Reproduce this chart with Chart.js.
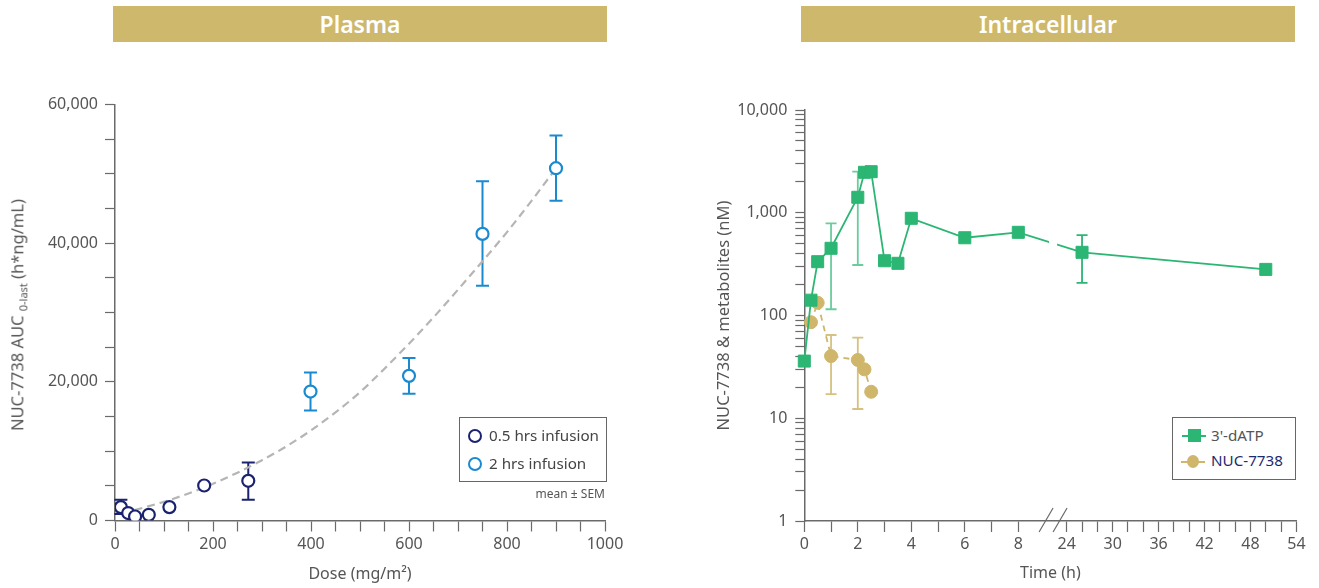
<!DOCTYPE html>
<html>
<head>
<meta charset="utf-8">
<script src="https://cdn.jsdelivr.net/npm/chart.js@4.4.0/dist/chart.umd.min.js"></script>
<style>
  body { margin: 0; width: 1319px; height: 588px; position: relative; overflow: hidden; background: #fff; font-family: 'Noto Sans', sans-serif; }
  .bar { position: absolute; top: 6px; height: 36px; line-height: 36px; background: #ceb86c; color: #fff; font-size: 23px; font-weight: 600; text-align: center; }
  canvas { position: absolute; top: 0; }
  .ytitle { position: absolute; white-space: nowrap; font-size: 16.5px; color: #555; transform: translate(-50%, -50%) rotate(-90deg); }
  .ytitle sub { font-size: 11px; }
  .legend { position: absolute; border: 1px solid #666; background: #fff; box-sizing: border-box; }
  .item { position: absolute; left: 0; font-size: 15.2px; color: #444; white-space: nowrap; }
  .circ { position: absolute; width: 10px; height: 10px; border-radius: 50%; border: 2.2px solid; background: #fff; }
  .note { position: absolute; font-size: 12px; color: #555; }
</style>
</head>
<body>
<div class="bar" style="left:113px; width:494px;">Plasma</div>
<div class="bar" style="left:801px; width:494px;">Intracellular</div>

<canvas id="plasma" width="650" height="588" style="left:0"></canvas>
<canvas id="intra" width="659" height="588" style="left:660px"></canvas>

<div class="ytitle" style="left:18px; top:315px;">NUC-7738 AUC <sub>0-last</sub> (h*ng/mL)</div>

<div class="legend" style="left:459px; top:417px; width:148px; height:65px;">
  <div class="circ" style="left:8px; top:11px; border-color:#1b2270;"></div>
  <div class="item" style="left:29px; top:7px;">0.5 hrs infusion</div>
  <div class="circ" style="left:8px; top:39px; border-color:#1a8ad0;"></div>
  <div class="item" style="left:29px; top:35px;">2 hrs infusion</div>
</div>
<div class="note" style="right:714px; top:485px;">mean ± SEM</div>

<div class="legend" style="left:1172px; top:417px; width:124px; height:63px;">
  <div style="position:absolute; left:9px; top:17px; width:24px; height:2px; background:#2bb673;"></div>
  <div style="position:absolute; left:15px; top:11px; width:13px; height:13px; background:#2bb673;"></div>
  <div class="item" style="left:38px; top:7px; color:#555;">3'-dATP</div>
  <div style="position:absolute; left:8px; top:43px; width:24px; height:2px; background:#cfb66b;"></div>
  <div style="position:absolute; left:14px; top:37px; width:12px; height:13px; border-radius:50%; background:#cfb66b;"></div>
  <div class="item" style="left:38px; top:32px; color:#1f2a6e;">NUC-7738</div>
</div>

<script>
// ---- Plasma: AUC vs dose ----
const doseHalfHr = [12, 27, 41, 69, 111, 182, 272];
const aucHalfHr = [1930, 1070, 580, 820, 1930, 5050, 5720];
const aucHalfHrUpper = [2985, null, null, null, null, null, 8360];
const aucHalfHrLower = [920, null, null, null, null, null, 2985];

const doseTwoHr = [399, 600, 750, 900];
const aucTwoHr = [18600, 20860, 41340, 50810];
const aucTwoHrUpper = [21340, 23420, 48940, 55520];
const aucTwoHrLower = [15860, 18270, 33850, 46100];

// dashed trend line
const fitDose = [40, 100, 150, 200, 250, 300, 350, 400, 450, 500, 550, 600, 650, 700, 750, 800, 850, 900];
const fitAuc = [1500, 2700, 3900, 5300, 6900, 8700, 10700, 13000, 15600, 18500, 21900, 25500, 29300, 33300, 37400, 41600, 46100, 50800];

// ---- Intracellular: concentration vs time ----
const datpTime = [0, 0.25, 0.5, 1, 2, 2.25, 2.5, 3, 3.5, 4, 6, 8, 26, 50];
const datpConc = [36, 141, 334, 451, 1414, 2476, 2510, 341, 322, 883, 571, 645, 412, 281];
const datpUpper = [null, null, null, 789, 2510, null, null, null, null, null, null, null, 607, null];
const datpLower = [null, null, null, 115, 310, null, null, null, null, null, null, null, 208, null];

const nucTime = [0.25, 0.5, 1, 2, 2.25, 2.5];
const nucConc = [86, 133, 40.3, 36.9, 29.9, 18.1];
const nucUpper = [null, null, 64.6, 60.8, null, null];
const nucLower = [null, null, 17.2, 12.3, null, null];

const timeTicks = [0, 1, 2, 3, 4, 5, 6, 7, 8, 24, 26, 28, 30, 32, 34, 36, 38, 40, 42, 44, 46, 48, 50, 52, 54];
const timeTickLabels = ['0', '', '2', '', '4', '', '6', '', '8', '24', '', '', '30', '', '', '36', '', '', '42', '', '', '48', '', '', '54'];
const logDecades = [1, 10, 100, 1000, 10000];
const logSteps = [1, 2, 3, 4, 5, 6, 7, 8, 9];

// broken time axis: 0-8 h at full width, 24-54 h compressed
const SEG2_START = 9.81;
const SEG2_SCALE = 0.2862;
const BREAK_U = 9.3;
function toU(t) {
  return t <= 8 ? t : SEG2_START + (t - 24) * SEG2_SCALE;
}

const FONT = 'Noto Sans';
const AXIS = '#6a6a6a';
const TXT = '#555';

const errorBars = {
  id: 'errorBars',
  beforeDatasetsDraw(chart) {
    const { ctx, scales: { x, y } } = chart;
    chart.data.datasets.forEach(ds => {
      if (!ds.errUpper) return;
      ctx.save();
      ctx.lineWidth = ds.errWidth;
      ds.data.forEach((p, j) => {
        const hi = ds.errUpper[j], lo = ds.errLower[j];
        if (hi == null) return;
        const px = x.getPixelForValue(p.x);
        const top = y.getPixelForValue(hi);
        const bot = y.getPixelForValue(lo);
        const w = ds.capWidth / 2;
        ctx.strokeStyle = Array.isArray(ds.errColor) ? ds.errColor[j] : ds.errColor;
        ctx.beginPath();
        ctx.moveTo(px, top); ctx.lineTo(px, bot);
        ctx.moveTo(px - w, top); ctx.lineTo(px + w, top);
        ctx.moveTo(px - w, bot); ctx.lineTo(px + w, bot);
        ctx.stroke();
      });
      ctx.restore();
    });
  }
};

const toPoints = (xs, ys, f) => xs.map((v, i) => ({ x: f ? f(v) : v, y: ys[i] }));

new Chart(document.getElementById('plasma'), {
  type: 'scatter',
  data: {
    datasets: [
      {
        label: '0.5 hrs infusion',
        data: toPoints(doseHalfHr, aucHalfHr),
        pointRadius: 6,
        pointBorderWidth: 2.2,
        pointBackgroundColor: '#fff',
        pointBorderColor: '#1b2270',
        errUpper: aucHalfHrUpper, errLower: aucHalfHrLower,
        errColor: '#1b2270', errWidth: 2, capWidth: 13
      },
      {
        label: '2 hrs infusion',
        data: toPoints(doseTwoHr, aucTwoHr),
        pointRadius: 6,
        pointBorderWidth: 2.2,
        pointBackgroundColor: '#fff',
        pointBorderColor: '#1a8ad0',
        errUpper: aucTwoHrUpper, errLower: aucTwoHrLower,
        errColor: '#1a8ad0', errWidth: 2, capWidth: 13
      },
      {
        type: 'line',
        label: 'fit',
        data: toPoints(fitDose, fitAuc),
        borderColor: '#b5b5b5',
        borderWidth: 2.2,
        borderDash: [8, 5],
        pointRadius: 0,
        cubicInterpolationMode: 'monotone',
        fill: false
      }
    ]
  },
  options: {
    responsive: false,
    animation: false,
    layout: { padding: { top: 104.5, right: 45, bottom: 0, left: 0 } },
    plugins: { legend: { display: false }, tooltip: { enabled: false } },
    scales: {
      x: {
        type: 'linear', min: 0, max: 1000,
        afterFit: s => { s.height = 67.5; },
        border: { color: AXIS, width: 1.5 },
        grid: { drawOnChartArea: false, tickLength: 11, tickColor: AXIS, tickWidth: 1.2 },
        ticks: {
          stepSize: 50, autoSkip: false, maxRotation: 0, padding: 3,
          color: TXT, font: { family: FONT, size: 16 },
          callback: v => (v % 200 === 0 ? String(v) : '')
        },
        title: { display: true, text: 'Dose (mg/m²)', color: TXT, font: { family: FONT, size: 16 }, padding: { top: 4, bottom: 4 } }
      },
      y: {
        min: 0, max: 60000,
        afterFit: s => { s.width = 115; },
        border: { color: AXIS, width: 1.5 },
        grid: { drawOnChartArea: false, tickLength: 10, tickColor: AXIS, tickWidth: 1.2 },
        ticks: {
          stepSize: 5000, autoSkip: false, padding: 7,
          color: TXT, font: { family: FONT, size: 16 },
          callback: v => (v % 20000 === 0 ? v.toLocaleString('en-US') : '')
        }
      }
    }
  },
  plugins: [errorBars]
});

// gap in data line + "//" marks at the axis break
const axisBreak = {
  id: 'axisBreak',
  beforeDatasetsDraw(chart) {
    const { ctx, width, height, scales: { x } } = chart;
    const cx = x.getPixelForValue(BREAK_U);
    ctx.save();
    ctx.beginPath();
    ctx.rect(0, 0, cx - 4, height);
    ctx.rect(cx + 4, 0, width - cx - 4, height);
    ctx.clip();
  },
  afterDatasetsDraw(chart) {
    chart.ctx.restore();
  },
  afterDraw(chart) {
    const { ctx, chartArea, scales: { x } } = chart;
    const cx = x.getPixelForValue(BREAK_U);
    const yb = chartArea.bottom;
    ctx.save();
    ctx.strokeStyle = AXIS;
    ctx.lineWidth = 1.2;
    ctx.beginPath();
    [-7, 7].forEach(dx => {
      ctx.moveTo(cx + dx - 7, yb + 11);
      ctx.lineTo(cx + dx + 7, yb - 13);
    });
    ctx.stroke();
    ctx.restore();
  }
};

const greenErr = 'rgba(43,182,115,0.7)';

new Chart(document.getElementById('intra'), {
  type: 'line',
  data: {
    datasets: [
      {
        label: "3'-dATP",
        data: toPoints(datpTime, datpConc, toU),
        borderColor: '#2bb673',
        borderWidth: 1.8,
        pointStyle: 'rect',
        pointRadius: 8.5,
        pointBorderWidth: 1,
        pointBackgroundColor: '#2bb673',
        pointBorderColor: '#2bb673',
        clip: false,
        errUpper: datpUpper, errLower: datpLower,
        errColor: datpTime.map(t => (t > 8 ? '#2bb673' : greenErr)), errWidth: 1.8, capWidth: 11
      },
      {
        label: 'NUC-7738',
        data: toPoints(nucTime, nucConc, toU),
        borderColor: '#cfb66b',
        borderWidth: 1.8,
        borderDash: [6, 5],
        pointStyle: 'circle',
        pointRadius: 6.5,
        pointBorderWidth: 1,
        pointBackgroundColor: '#cfb66b',
        pointBorderColor: '#cfb66b',
        clip: false,
        errUpper: nucUpper, errLower: nucLower,
        errColor: 'rgba(207,182,107,0.85)', errWidth: 1.8, capWidth: 11
      }
    ]
  },
  options: {
    responsive: false,
    animation: false,
    layout: { padding: { top: 110, right: 22.6, bottom: 0, left: 50.7 } },
    plugins: { legend: { display: false }, tooltip: { enabled: false } },
    scales: {
      x: {
        type: 'linear', min: 0, max: toU(54),
        afterBuildTicks: s => { s.ticks = timeTicks.map(t => ({ value: toU(t) })); },
        afterFit: s => { s.height = 67; },
        border: { color: AXIS, width: 1.5 },
        grid: { drawOnChartArea: false, tickLength: 11, tickColor: AXIS, tickWidth: 1.2 },
        ticks: {
          autoSkip: false, maxRotation: 0, padding: 3,
          color: TXT, font: { family: FONT, size: 16 },
          callback: (v, i) => timeTickLabels[i]
        },
        title: { display: true, text: 'Time (h)', color: TXT, font: { family: FONT, size: 16 }, padding: { top: 4, bottom: 5 } }
      },
      y: {
        type: 'logarithmic', min: 1, max: 10000,
        afterBuildTicks: s => {
          const ticks = [];
          logDecades.forEach(d => logSteps.forEach(k => { if (d * k <= 10000) ticks.push({ value: d * k }); }));
          s.ticks = ticks;
        },
        afterFit: s => { s.width = 93.6; },
        border: { color: AXIS, width: 1.5 },
        grid: { drawOnChartArea: false, tickLength: 9, tickColor: AXIS, tickWidth: 1.2 },
        ticks: {
          autoSkip: false, padding: 8,
          color: TXT, font: { family: FONT, size: 16 },
          callback: v => (logDecades.includes(v) ? v.toLocaleString('en-US') : '')
        },
        title: { display: true, text: 'NUC-7738 & metabolites (nM)', color: TXT, font: { family: FONT, size: 16.5 }, padding: { top: 4, bottom: 4 } }
      }
    }
  },
  plugins: [errorBars, axisBreak]
});
</script>
</body>
</html>
